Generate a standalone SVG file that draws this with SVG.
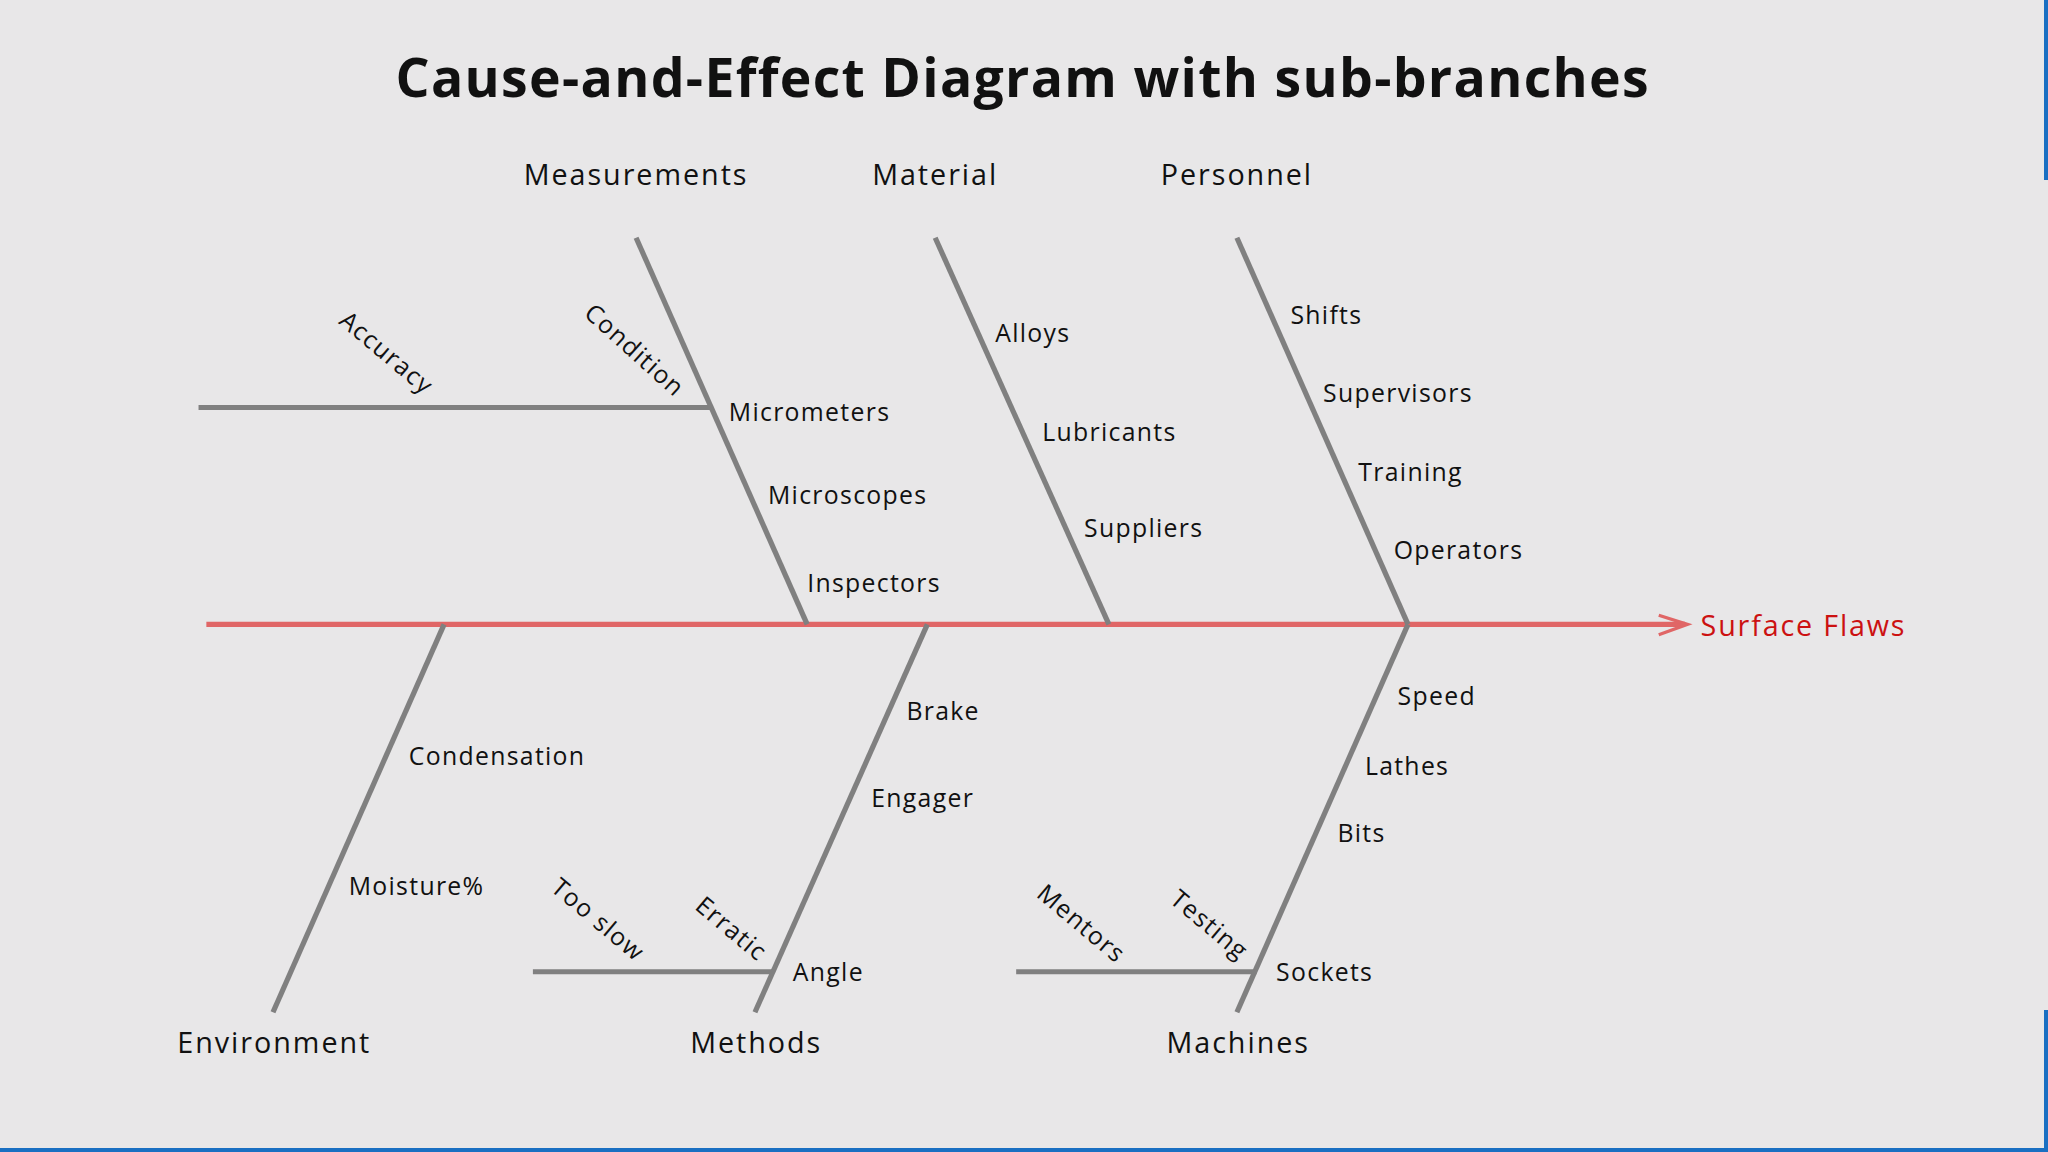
<svg xmlns="http://www.w3.org/2000/svg" width="2048" height="1152" viewBox="0 0 2048 1152">
<style>
text{font-family:"Open Sans","Noto Sans","Liberation Sans",sans-serif;fill:#111}
.t{font-size:41px;font-weight:bold;text-anchor:middle;letter-spacing:1px}
.c{font-size:22px;text-anchor:middle;letter-spacing:1.5px}
.s{font-size:19px;letter-spacing:1px}
.r{font-size:19px;text-anchor:middle;letter-spacing:1px}
.bone{stroke:#808080;stroke-width:4;fill:none}
</style>
<rect width="2048" height="1152" fill="#e8e7e8"/>
<rect x="0" y="1148" width="2048" height="4" fill="#1a6fc2"/>
<rect x="2044" y="0" width="4" height="180" fill="#1a6fc2"/>
<rect x="2044" y="1010" width="4" height="142" fill="#1a6fc2"/>
<g transform="scale(1.30612)">
<text class="t" x="783" y="74">Cause-and-Effect Diagram with sub-branches</text>
<g id="connectors">
<line x1="158" y1="478" x2="1290" y2="478" stroke="#e06666" stroke-width="4"/>
<path d="M1270,471 L1292,478 L1270,486" fill="none" stroke="#e06666" stroke-width="2.5"/>
<line class="bone" x1="487" y1="182" x2="618" y2="478"/>
<line class="bone" x1="716" y1="182" x2="849" y2="478"/>
<line class="bone" x1="947" y1="182" x2="1078" y2="478"/>
<line class="bone" x1="340" y1="478" x2="209" y2="775"/>
<line class="bone" x1="710" y1="478" x2="578" y2="775"/>
<line class="bone" x1="1078" y1="478" x2="947" y2="775"/>
<line class="bone" x1="152" y1="312" x2="545" y2="312"/>
<line class="bone" x1="408" y1="744" x2="592" y2="744"/>
<line class="bone" x1="778" y1="744" x2="962" y2="744"/>
</g>
<g id="effect"><text x="1302" y="487" style="font-size:22px;fill:#cc1111;letter-spacing:1.4px">Surface Flaws</text></g>
<g id="measurements"><text class="c" x="487" y="142">Measurements</text>
<text class="s" x="558" y="322">Micrometers</text><text class="s" x="588" y="386">Microscopes</text><text class="s" x="618" y="453">Inspectors</text>
<text class="r" transform="translate(296,270) rotate(40)" dy=".35em">Accuracy</text>
<text class="r" transform="translate(486,268) rotate(42)" dy=".35em">Condition</text></g>
<g id="material"><text class="c" x="716" y="142">Material</text>
<text class="s" x="762" y="262">Alloys</text><text class="s" x="798" y="338">Lubricants</text><text class="s" x="830" y="411">Suppliers</text></g>
<g id="personnel"><text class="c" x="947" y="142">Personnel</text>
<text class="s" x="988" y="248">Shifts</text><text class="s" x="1013" y="308">Supervisors</text><text class="s" x="1040" y="368">Training</text><text class="s" x="1067" y="428">Operators</text></g>
<g id="environment"><text class="c" x="210" y="806">Environment</text>
<text class="s" x="313" y="586">Condensation</text><text class="s" x="267" y="685">Moisture%</text></g>
<g id="methods"><text class="c" x="579" y="806">Methods</text>
<text class="s" x="694" y="551">Brake</text><text class="s" x="667" y="618">Engager</text><text class="s" x="607" y="751">Angle</text>
<text class="r" transform="translate(458,704) rotate(40)" dy=".35em">Too slow</text>
<text class="r" transform="translate(560,711) rotate(40)" dy=".35em">Erratic</text></g>
<g id="machines"><text class="c" x="948" y="806">Machines</text>
<text class="s" x="1070" y="540">Speed</text><text class="s" x="1045" y="593">Lathes</text><text class="s" x="1024" y="645">Bits</text><text class="s" x="977" y="751">Sockets</text>
<text class="r" transform="translate(828,707) rotate(40)" dy=".35em">Mentors</text>
<text class="r" transform="translate(926,708) rotate(40)" dy=".35em">Testing</text></g>
</g>
</svg>
